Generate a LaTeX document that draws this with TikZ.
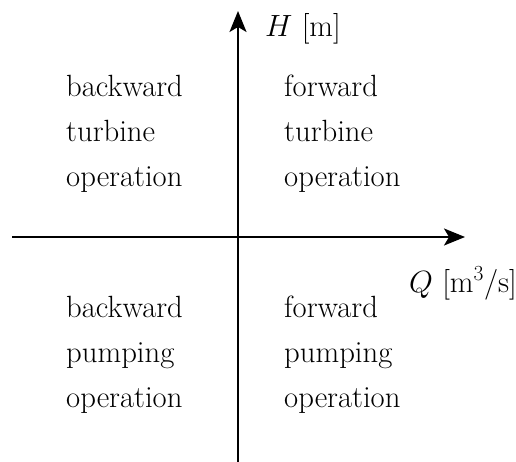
\documentclass[tikz,border=0pt]{standalone}
\usepackage{fix-cm}
\usetikzlibrary{arrows.meta}
\begin{document}
\begin{tikzpicture}[x=1pt,y=-1pt,
  axis/.style={line width=2pt,-{Stealth[length=21pt,width=17pt,inset=5pt]}},
  quad/.style={anchor=base west,inner sep=0pt,align=left,font=\fontsize{30.7}{45}\selectfont},
  lbl/.style={anchor=base west,inner sep=0pt,font=\fontsize{30.7}{36}\selectfont}]
\useasboundingbox (0,0) rectangle (516,462);
\coordinate (xs) at (12,237);
\coordinate (xe) at (465,237);
\coordinate (ys) at (238,462);
\coordinate (ye) at (238,11);
\draw[axis] (xs) -- (xe);
\draw[axis] (ys) -- (ye);
\node[lbl] (H) at (265,37) {$H$ [m]};
\node[lbl] (Q) at (409,292) {$Q$ [m$^3$/s]};
\node[quad] (bt) at (66,187) {backward\\turbine\\operation};
\node[quad] (ft) at (284,187) {forward\\turbine\\operation};
\node[quad] (bp) at (66,407) {backward\\pumping\\operation};
\node[quad] (fp) at (284,407) {forward\\pumping\\operation};
\end{tikzpicture}
\end{document}
